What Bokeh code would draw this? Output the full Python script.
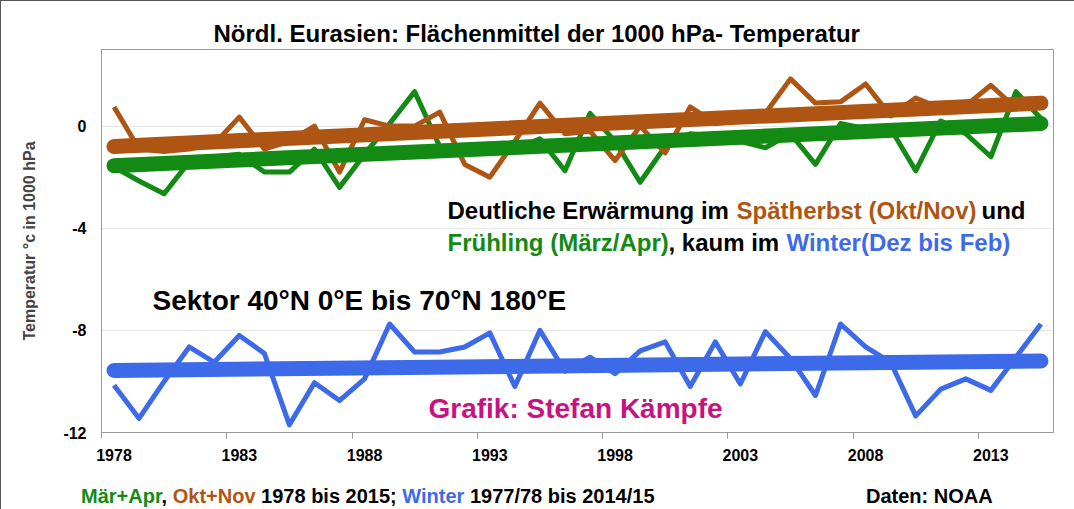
from bokeh.plotting import figure
from bokeh.models import Range1d, FixedTicker, Label, Div
from bokeh.layouts import column
from bokeh.embed import file_html
from bokeh.resources import INLINE

years = list(range(1978, 2016))

green_spring = [-1.6, -2.15, -2.65, -1.4, -1.2, -1.1, -1.8, -1.8, -0.9, -2.4,
                -1.1, 0.1, 1.35, -0.8, -1.0, -0.8, -0.9, -0.5, -1.75, 0.5,
                -0.6, -2.2, -0.8, -0.3, -0.4, -0.6, -0.85, -0.3, -1.5, 0.1,
                -0.1, -0.1, -1.75, 0.2, -0.3, -1.2, 1.35, 0.3]

brown_autumn = [0.75, -0.9, -1.0, -0.9, -0.7, 0.35, -0.9, -0.6, 0.0, -1.8,
                0.25, 0.0, 0.0, 0.55, -1.5, -2.0, -0.6, 0.9, -0.3, -0.2,
                -1.35, 0.0, -1.05, 0.75, 0.1, 0.2, 0.5, 1.85, 0.9, 0.95,
                1.65, 0.4, 1.1, 0.7, 0.8, 1.6, 0.7, 0.9]

blue_winter = [-10.15, -11.45, -10.0, -8.65, -9.25, -8.2, -8.9, -11.7, -10.05, -10.75,
               -9.9, -7.75, -8.85, -8.85, -8.65, -8.1, -10.2, -8.0, -9.6, -9.05,
               -9.7, -8.8, -8.45, -10.2, -8.45, -10.1, -8.05, -9.1, -10.55, -7.75,
               -8.65, -9.25, -11.35, -10.3, -9.9, -10.35, -9.05, -7.75]

trend_years = [1978, 2015]
green_trend = [-1.55, 0.1]
brown_trend = [-0.8, 0.9]
blue_trend = [-9.57, -9.2]

y_ticks = [-12, -8, -4, 0]
y_tick_labels = ["-12", "-8", "-4", "0"]
x_label_years = years[::5]
x_boundaries = [y - 0.5 for y in x_label_years]

BROWN = "#AF5514"
GREEN = "#138A13"
BLUE = "#3D6AE8"
MAGENTA = "#C8127F"
FONT = "Liberation Sans"

p = figure(width=1066, height=470,
           x_range=Range1d(1977.5, 2015.5), y_range=Range1d(-12, 3),
           output_backend="svg", toolbar_location=None,
           title="Nördl. Eurasien: Flächenmittel der 1000 hPa- Temperatur",
           min_border_left=100, min_border_right=14,
           min_border_top=48, min_border_bottom=39)
p.title.align = "left"
p.title.offset = 112
p.title.standoff = 6
p.title.text_font = FONT
p.title.text_font_style = "bold"
p.title.text_font_size = "24px"
p.title.text_color = "black"

p.background_fill_color = "white"
p.border_fill_color = "white"
p.outline_line_color = "#999999"
p.xgrid.visible = False
p.ygrid.ticker = FixedTicker(ticks=y_ticks)
p.ygrid.grid_line_color = "#E6E6E6"

# y axis
p.yaxis.ticker = FixedTicker(ticks=y_ticks)
p.yaxis.major_label_overrides = dict(zip(y_ticks, y_tick_labels))
p.yaxis.major_tick_out = 0
p.yaxis.major_tick_in = 0
p.yaxis.minor_tick_out = 0
p.yaxis.minor_tick_in = 0
p.yaxis.axis_line_color = "#999999"
p.yaxis.major_label_text_font = FONT
p.yaxis.major_label_text_font_style = "bold"
p.yaxis.major_label_text_font_size = "16px"
p.yaxis.major_label_text_color = "black"
p.yaxis.major_label_standoff = 15
p.yaxis.axis_label = "Temperatur °c in 1000 hPa"
p.yaxis.axis_label_text_font = FONT
p.yaxis.axis_label_text_font_style = "bold"
p.yaxis.axis_label_text_font_size = "16px"
p.yaxis.axis_label_standoff = 22

# x axis: labels at category centres, tick marks at category boundaries
p.xaxis.ticker = FixedTicker(ticks=x_label_years, minor_ticks=x_boundaries)
p.xaxis.major_tick_out = 0
p.xaxis.major_tick_in = 0
p.xaxis.minor_tick_out = 6
p.xaxis.minor_tick_in = 0
p.xaxis.minor_tick_line_color = "#999999"
p.xaxis.axis_line_color = "#999999"
p.xaxis.major_label_standoff = 10
p.xaxis.major_label_text_font = FONT
p.xaxis.major_label_text_font_style = "bold"
p.xaxis.major_label_text_font_size = "16px"
p.xaxis.major_label_text_color = "black"

# series
p.line(years, blue_winter, line_color=BLUE, line_width=5, line_join="round")
p.line(years, green_spring, line_color=GREEN, line_width=5, line_join="round")
p.line(years, brown_autumn, line_color=BROWN, line_width=5, line_join="round")
# trends
p.line(trend_years, blue_trend, line_color=BLUE, line_width=15, line_cap="round")
p.line(trend_years, green_trend, line_color=GREEN, line_width=15, line_cap="round")
p.line(trend_years, brown_trend, line_color=BROWN, line_width=15, line_cap="round")


def lab(x, y, text, color="black", size="24px"):
    p.add_layout(Label(x=x, y=y, x_units="screen", y_units="screen", text=text,
                       text_color=color, text_font=FONT, text_font_size=size,
                       text_font_style="bold", text_align="left",
                       text_baseline="middle"))


lab(346, 222, "Deutliche Erwärmung im")
lab(635, 222, "Spätherbst (Okt/Nov)", color=BROWN)
lab(880, 222, "und")
lab(346, 190, "Frühling (März/Apr)", color=GREEN)
lab(567, 190, ", kaum im")
lab(685, 190, "Winter(Dez bis Feb)", color=BLUE)

lab(51, 132, "Sektor 40°N 0°E bis 70°N 180°E", size="28px")
lab(327, 24, "Grafik: Stefan Kämpfe", color=MAGENTA, size="28px")

footer_html = (
    '<div style="position:relative;width:1066px;height:36px;'
    "font-family:'Liberation Sans',Arial,sans-serif;font-weight:bold;"
    'font-size:20px;line-height:22px;color:black;white-space:nowrap;">'
    '<span style="position:absolute;left:75px;top:9px;">'
    f'<span style="color:{GREEN}">Mär+Apr</span>, '
    f'<span style="color:{BROWN}">Okt+Nov</span> 1978 bis 2015; '
    f'<span style="color:{BLUE}">Winter</span> 1977/78 bis 2014/15</span>'
    '<span style="position:absolute;left:860px;top:9px;">Daten: NOAA</span>'
    '</div>'
)
footer = Div(text=footer_html, width=1066, height=36)

layout = column(p, footer, styles={"border": "1px solid #555", "background": "white"})

open("out.html", "w").write(file_html(layout, INLINE))
